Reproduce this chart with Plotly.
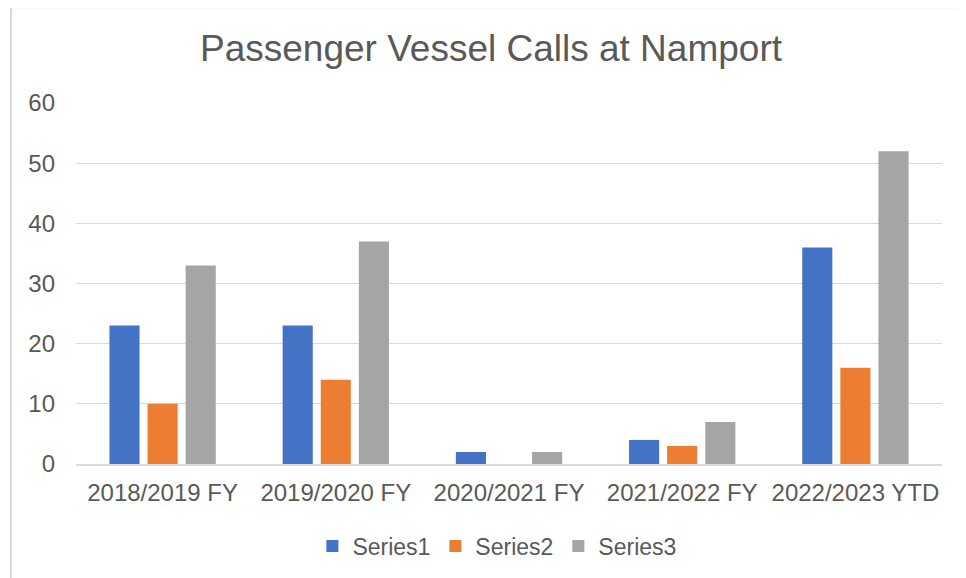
import plotly.graph_objects as go

categories = ["2018/2019 FY", "2019/2020 FY", "2020/2021 FY", "2021/2022 FY", "2022/2023 YTD"]
series1 = [23, 23, 2, 4, 36]
series2 = [10, 14, 0, 3, 16]
series3 = [33, 37, 2, 7, 52]
y_ticks = [0, 10, 20, 30, 40, 50, 60]

colors = ["#4472C4", "#ED7D31", "#A5A5A5"]
names = ["Series1", "Series2", "Series3"]

fig = go.Figure()
for name, vals, c in zip(names, [series1, series2, series3], colors):
    fig.add_trace(go.Bar(x=categories, y=vals, name=name, marker=dict(color=c, line=dict(width=0))))

font_color = "#595959"
fig.update_layout(
    width=958, height=570,
    margin=dict(l=68, r=24, t=95, b=113),
    paper_bgcolor="white", plot_bgcolor="white",
    font=dict(family="Liberation Sans, Arial, sans-serif", color=font_color, size=24),
    title=dict(text="Passenger Vessel Calls at Namport", x=483 / 958, xanchor="center",
               y=1 - 40 / 570, yanchor="middle", xref="container", yref="container",
               font=dict(size=37, color=font_color)),
    barmode="group", bargap=0.34, bargroupgap=0.21,
    legend=dict(orientation="h", x=0.486, xanchor="center", y=-0.224, yanchor="middle",
                font=dict(size=23, color=font_color), itemwidth=30),
    xaxis=dict(showgrid=False, showline=True, linecolor="#D9D9D9", linewidth=1.5,
               ticks="", ticklabelstandoff=6, tickfont=dict(size=24, color=font_color)),
    yaxis=dict(range=[0, 60], tickvals=y_ticks, showgrid=True, gridcolor="#D9D9D9", gridwidth=1,
               zeroline=False, showline=False, ticks="", ticklabelstandoff=20,
               tickfont=dict(size=24, color=font_color)),
    shapes=[dict(type="rect", xref="paper", yref="paper",
                 x0=(11 - 76) / 866, x1=(975 - 76) / 866,
                 y0=(465 - 585) / 362, y1=(465 - 7) / 362,
                 line=dict(color="#D9D9D9", width=2), fillcolor="rgba(0,0,0,0)", layer="below")],
)

fig.write_html("out.html")
